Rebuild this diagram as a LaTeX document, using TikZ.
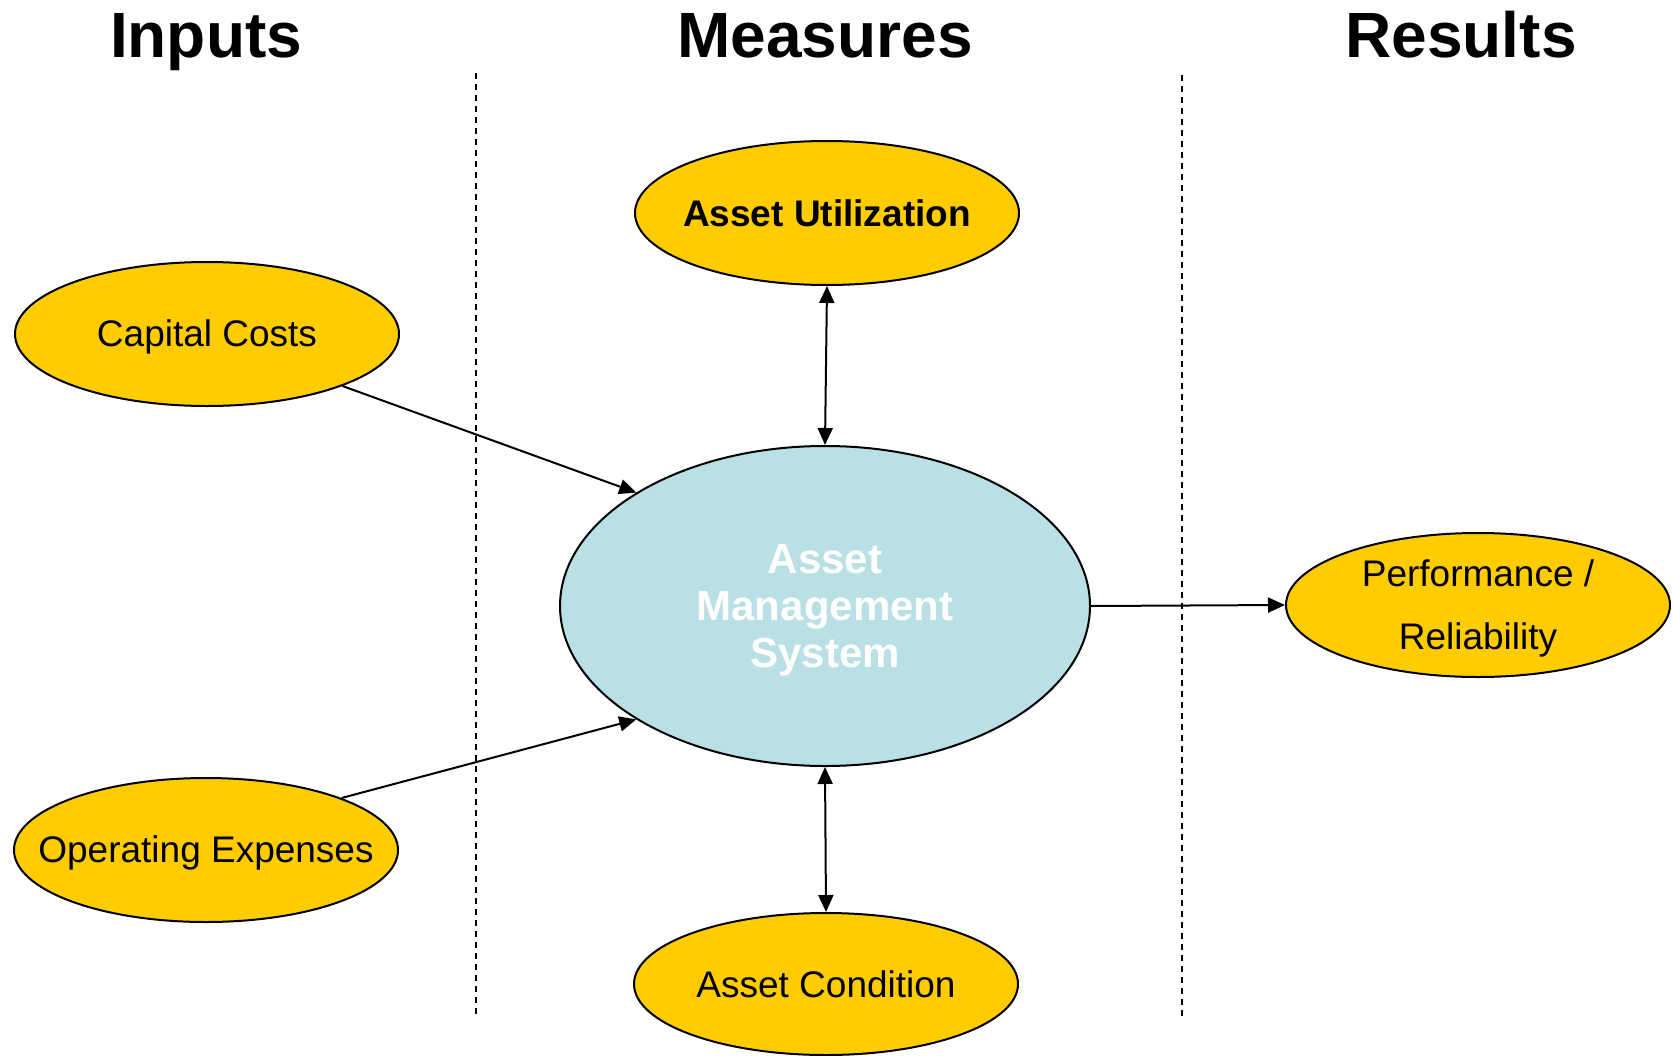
\documentclass[tikz,border=0pt]{standalone}
\usepackage{fontspec}
\setmainfont{Liberation Sans}
\usetikzlibrary{shapes.geometric,arrows.meta}
\definecolor{gold}{RGB}{255,204,0}
\definecolor{paleteal}{RGB}{185,224,228}
% zero-width line, nudged down, so the oval keeps its set size
\newcommand\zw[2][0pt]{\makebox[0pt]{\raisebox{-#1}[\height][\depth]{#2}}}
\begin{document}
\begin{tikzpicture}[x=1pt,y=-1pt,
  oval/.style={ellipse,draw=black,line width=2pt,fill=gold,inner sep=0pt,
    minimum width=384pt,minimum height=144pt,align=center,
    font=\fontsize{37}{44}\selectfont},
  hub/.style={ellipse,draw=black,line width=2pt,fill=paleteal,inner sep=0pt,
    minimum width=530pt,minimum height=320pt,align=center,text=white,
    font=\fontsize{42}{47}\selectfont\bfseries},
  heading/.style={anchor=base,font=\fontsize{64}{70}\selectfont\bfseries},
  tip/.tip={Triangle[length=17pt,width=15pt]},
  link/.style={line width=2pt,-tip},
  twoway/.style={line width=2pt,tip-tip},
  divider/.style={line width=1.5pt,dash pattern=on 6pt off 5pt}]
\useasboundingbox (0,0) rectangle (1673,1055);

% column headings
\node[heading] (hin) at (206,57) {Inputs};
\node[heading] (hme) at (825,57) {Measures};
\node[heading] (hre) at (1461,57) {Results};

% column dividers
\coordinate (d1t) at (476,73);
\coordinate (d1b) at (476,1016);
\coordinate (d2t) at (1182,75);
\coordinate (d2b) at (1182,1017);
\draw[divider] (d1t) -- (d1b);
\draw[divider] (d2t) -- (d2b);

% nodes
\node[hub] (ams) at (825,606) {\zw[4pt]{Asset}\\\zw[4pt]{Management}\\\zw[4pt]{System}};
\node[oval] (cc) at (207,334) {\zw[3pt]{Capital Costs}};
\node[oval] (oe) at (206,850) {\zw[3pt]{Operating Expenses}};
\node[oval,font=\fontsize{37}{44}\selectfont\bfseries] (au) at (827,213) {\zw{Asset Utilization}};
\node[oval,minimum height=142pt] (ac) at (826,984) {\zw{Asset Condition}};
\node[oval,font=\fontsize{37}{63}\selectfont] (perf) at (1478,605) {\zw[3pt]{Performance /}\\\zw[3pt]{Reliability}};

% connectors
\draw[link] (cc.-21) -- (ams.149);
\draw[link] (oe.21) -- (ams.211);
\draw[twoway] (au.south) -- (ams.north);
\draw[twoway] (ams.south) -- (ac.north);
\draw[link] (ams.east) -- (perf.west);
\end{tikzpicture}
\end{document}
